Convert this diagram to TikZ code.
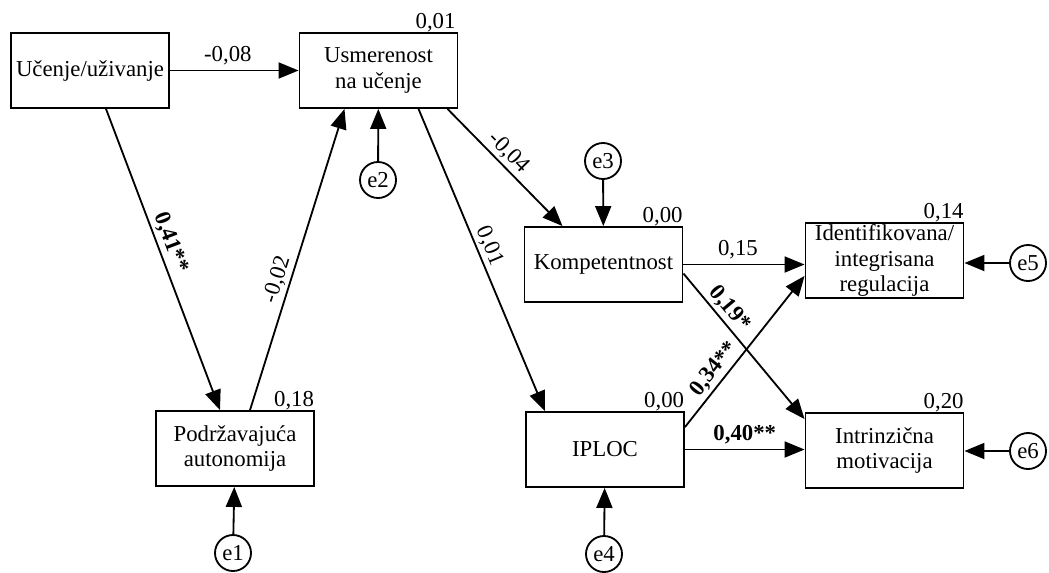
\documentclass[tikz,border=0pt]{standalone}
\usepackage{fontspec}
\setmainfont{Liberation Serif}
\usetikzlibrary{arrows.meta}

\begin{document}
\begin{tikzpicture}[x=0.025cm, y=0.025cm, line width=1.3pt,
  font=\fontsize{16.2}{18}\selectfont,
  var/.style={draw, minimum width=3.95cm, minimum height=1.875cm, inner sep=0pt, align=center},
  err/.style={draw, circle, minimum size=0.9cm, inner sep=0pt},
  arr/.style={-{Triangle[length=0.5cm,width=0.4cm]}},
  rsq/.style={anchor=base east, inner sep=0pt},
  coef/.style={above, sloped, inner sep=2pt},
  sig/.style={coef, font=\fontsize{16.2}{18}\selectfont\bfseries}]
  \useasboundingbox (0,0) rectangle (1049,-572);

  \node[var] (U) at (90,-70.5) {Učenje/uživanje};
  \node[var] (S) at (378.5,-70.5) {Usmerenost\\na učenje};
  \node[var] (P) at (235,-448.5) {Podržavajuća\\autonomija};
  \node[var] (K) at (603.5,-264.5) {Kompetentnost};
  \node[var] (I) at (605,-449.5) {IPLOC};
  \node[var] (D) at (884.5,-260.5) {Identifikovana/\\integrisana\\regulacija};
  \node[var] (M) at (884.5,-450.5) {Intrinzična\\motivacija};

  \node[err] (e1) at (233,-553) {e1};
  \node[err] (e2) at (378,-180) {e2};
  \node[err] (e3) at (603,-161) {e3};
  \node[err] (e4) at (604,-554) {e4};
  \node[err] (e5) at (1028,-263) {e5};
  \node[err] (e6) at (1028,-451) {e6};

  \node[rsq] at ([xshift=-0.05cm,yshift=0.1cm]S.north east) {0,01};
  \node[rsq] at ([yshift=0.1cm]P.north east) {0,18};
  \node[rsq] at ([yshift=0.1cm]K.north east) {0,00};
  \node[rsq] at ([yshift=0.1cm]I.north east) {0,00};
  \node[rsq] at ([yshift=0.1cm]D.north east) {0,14};
  \node[rsq] at ([yshift=0.1cm]M.north east) {0,20};

  \draw[arr] (U) -- node[above, pos=0.45] {-0,08} (S);
  \draw[arr] ([xshift=0.4cm]U.south) -- node[sig, pos=0.46] {0,41**} ([xshift=-0.375cm]P.north);
  \draw[arr] ([xshift=0.375cm]P.north) -- node[coef, pos=0.42] {-0,02} ([xshift=-0.85cm]S.south);
  \draw[arr] ([xshift=1.725cm]S.south) -- node[coef, pos=0.45] {-0,04} ([xshift=-1.025cm]K.north);
  \draw[arr] ([xshift=1cm]S.south) -- node[coef, pos=0.47] {0,01} ([xshift=-1.5cm]I.north);
  \draw[arr] (K.east) -- node[above, pos=0.45] {0,15} (K.east -| D.west);
  \draw[arr] ([yshift=-0.225cm]K.east) -- node[sig, pos=0.3] {0,19*} ([yshift=-0.175cm]M.north west);
  \draw[arr] ([yshift=-0.4cm]I.north east) -- node[sig, pos=0.33] {0,34**} ([yshift=0.575cm]D.south west);
  \draw[arr] (I.east) -- node[above, font=\fontsize{16.2}{18}\selectfont\bfseries] {0,40**} (I.east -| M.west);

  \draw[arr] (e1) -- (P);
  \draw[arr] (e2) -- (S);
  \draw[arr] (e3) -- (K);
  \draw[arr] (e4) -- (I);
  \draw[arr] (e5) -- (e5 -| D.east);
  \draw[arr] (e6) -- (e6 -| M.east);
\end{tikzpicture}
\end{document}
